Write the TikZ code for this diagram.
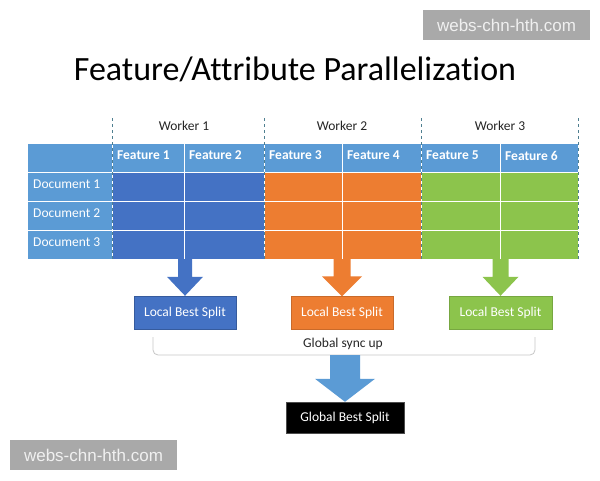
\documentclass[tikz,border=0pt]{standalone}
\usepackage{fontspec}
\setmainfont{Carlito}[Ligatures=NoCommon]
\newfontfamily\wmfont{Liberation Sans}
\usepackage{tikz}
\usetikzlibrary{positioning,calc}
\definecolor{lblue}{HTML}{5B9BD5}
\definecolor{wblue}{HTML}{4472C4}
\definecolor{worange}{HTML}{ED7D31}
\definecolor{wgreen}{HTML}{8CC44C}
\definecolor{dline}{HTML}{4F7F90}
\definecolor{wmgray}{HTML}{A9A9A9}
% block arrow: start, tip, half shaft, half head, head length, colour
\newcommand{\blockarr}[6]{%
\fill[#6] ($(#1)+(-#3,0)$) -- ($(#2)+(-#3,-#5)$) -- ($(#2)+(-#4,-#5)$) -- (#2)
-- ($(#2)+(#4,-#5)$) -- ($(#2)+(#3,-#5)$) -- ($(#1)+(#3,0)$) -- cycle;}

\begin{document}
\begin{tikzpicture}
[x=1pt,y=-1pt,
cell/.style={draw=white,line width=.8pt,inner sep=0pt,outer sep=0pt,minimum height=29pt},
hd/.style={cell,fill=lblue},
lbl/.style={text=white,inner sep=0pt,font=\fontsize{13.5}{16}\selectfont},
box/.style={inner sep=0pt,minimum height=33pt,minimum width=102pt,text=white,font=\fontsize{13.5}{16}\selectfont},
wk/.style={text=black!85,font=\fontsize{13.5}{16}\selectfont},
wm/.style={fill=wmgray,text=white!94!black,inner sep=0pt,minimum width=167pt,minimum height=30pt,font=\wmfont\fontsize{17}{20}\selectfont}]
\useasboundingbox[fill=white] (0,0) rectangle (600,480);
% title
\node[anchor=base,font=\fontsize{34}{40}\selectfont] (title) at (295,80) {Feature/Attribute Parallelization};
% table
\node[hd,minimum width=85pt] (hc) at (69.5,157.5) {};
\foreach \r/\yc in {1/186.5,2/215.5,3/244.5}{
\node[hd,minimum width=85pt] (d\r) at (69.5,\yc) {};
\node[lbl,anchor=west] (dl\r) at ([xshift=6pt,yshift=2pt]d\r.west) {Document \r};
}
\foreach \i/\xa/\xb/\c in {1/112/184/wblue,2/184/264/wblue,3/264/342/worange,4/342/421/worange,5/421/500/wgreen,6/500/578/wgreen}{
\pgfmathsetmacro\w{\xb-\xa}
\node[hd,minimum width=\w pt] (f\i) at ({(\xa+\xb)/2},157.5) {};
\node[lbl,anchor=west,font=\bfseries\fontsize{13.5}{16}\selectfont] (fl\i) at ([xshift=5pt,yshift=2pt]f\i.west) {Feature \i};
\foreach \r/\yc in {1/186.5,2/215.5,3/244.5}
\node[cell,fill=\c,minimum width=\w pt] (c\r\i) at ({(\xa+\xb)/2},\yc) {};
}
\foreach \x in {112,264,421,578}
\draw[dline,dashed,line width=.6pt] (\x,118) -- (\x,259);
% workers
\node[wk] (w1) at (184,126) {Worker 1};
\node[wk] (w2) at (342,126) {Worker 2};
\node[wk] (w3) at (500,126) {Worker 3};
% local splits
\node[box,fill=wblue,draw=wblue!80!black] (lb1) at (185,312.5) {Local Best Split};
\node[box,fill=worange,draw=worange!85!black] (lb2) at (342,313) {Local Best Split};
\node[box,fill=wgreen,draw=wgreen!85!black,minimum width=103pt] (lb3) at (500.5,312.5) {Local Best Split};
\coordinate (a1) at (lb1.north |- c31.south);
\coordinate (a2) at (lb2.north |- c33.south);
\coordinate (a3) at (lb3.north |- c35.south);
\blockarr{a1}{lb1.north}{7}{18}{19}{wblue}
\blockarr{a2}{lb2.north}{8.5}{20}{20}{worange}
\blockarr{a3}{lb3.north}{8}{18}{19}{wgreen}
% sync
\coordinate (sl) at (153,337);
\coordinate (sr) at (535,337);
\draw[black!22,line width=.8pt,rounded corners=5pt] (sl) -- ++(0,18) -| (sr);
\node[wk] (sync) at (343,344) {Global sync up};
\node[box,fill=black,draw=black!70,minimum width=118pt,minimum height=31pt] (gb) at (345,417.5) {Global Best Split};
\coordinate (sb) at (gb.north |- 0,355);
\blockarr{sb}{gb.north}{15}{30}{23}{lblue}
% marks
\node[wm] (wm1) at (506.5,25) {webs-chn-hth.com};
\node[wm] (wm2) at (93.5,455) {webs-chn-hth.com};
\end{tikzpicture}
\end{document}
